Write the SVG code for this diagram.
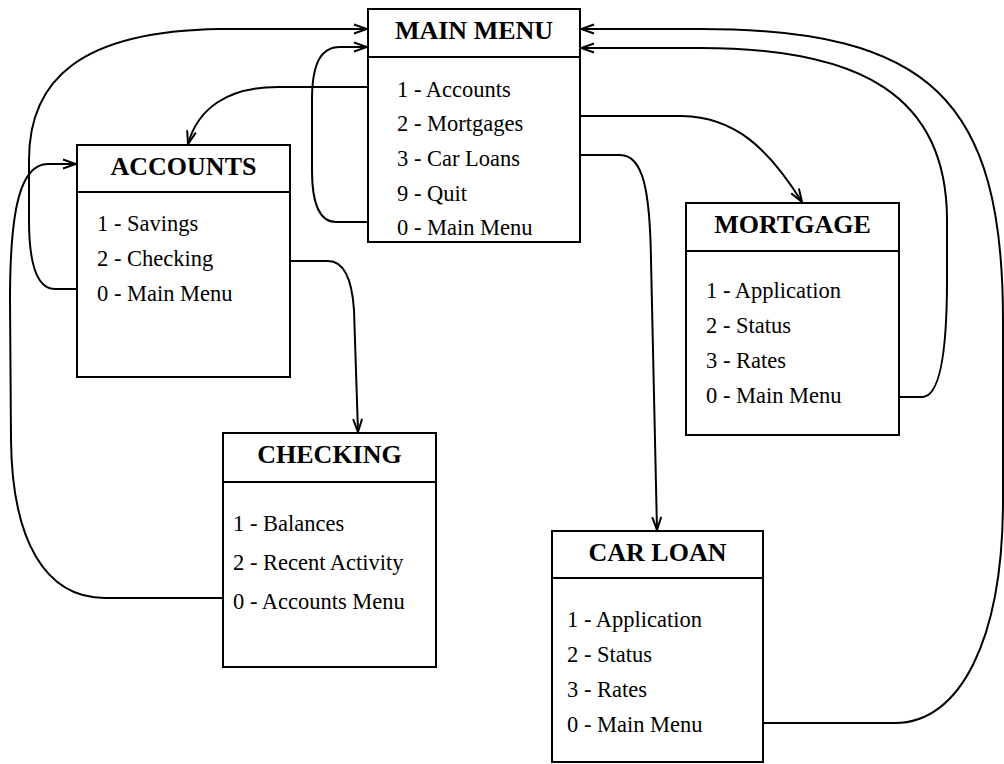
<svg xmlns="http://www.w3.org/2000/svg" width="1004" height="764" viewBox="0 0 1004 764">
  <defs>
    <style>
      .box { fill: #fff; stroke: #000; stroke-width: 2; }
      .sep { stroke: #000; stroke-width: 2; }
      .title { font-family: "Liberation Serif", "Times New Roman", serif; font-weight: bold; font-size: 26px; text-anchor: middle; fill: #000; }
      .item { font-family: "Liberation Serif", "Times New Roman", serif; font-size: 22.5px; fill: #000; }
      .wire { fill: none; stroke: #000; stroke-width: 2; }
      .arrow { marker-end: url(#head); }
    </style>
    <marker id="head" markerUnits="userSpaceOnUse" markerWidth="16" markerHeight="12" viewBox="-14 -6 16 12" refX="0" refY="0" orient="auto">
      <path d="M -13 -4.5 L 0 0 L -13 4.5" fill="none" stroke="#000" stroke-width="2"/>
    </marker>
  </defs>

  <rect width="1004" height="764" fill="#fff"/>

  <!-- connectors -->
  <g id="connectors">
    <!-- Main Menu: 1 - Accounts -> ACCOUNTS -->
    <path class="wire arrow" d="M 368 87 L 278 87 C 228 87 198 108 188 144"/>
    <!-- Main Menu: 2 - Mortgages -> MORTGAGE -->
    <path class="wire arrow" d="M 580 116 L 682 116 C 735 117 768 148 802 202"/>
    <!-- Main Menu: 3 - Car Loans -> CAR LOAN -->
    <path class="wire arrow" d="M 580 155 L 620 155 C 643 155 650 190 651 260 L 657 530"/>
    <!-- Main Menu: 0 - Main Menu -> itself -->
    <path class="wire arrow" d="M 368 222 L 336 222 C 318 222 312 200 312 170 L 312 100 C 312 65 320 47 340 47 L 367 47"/>
    <!-- Accounts: 0 - Main Menu -> MAIN MENU -->
    <path class="wire arrow" d="M 77 289 L 55 289 C 35 289 29 260 29 220 L 29 160 C 29 80 80 31 220 29 L 367 29"/>
    <!-- Accounts: 2 - Checking -> CHECKING -->
    <path class="wire arrow" d="M 290 261 L 328 261 C 345 261 352 280 354 310 L 358 432"/>
    <!-- Checking: 0 - Accounts Menu -> ACCOUNTS -->
    <path class="wire arrow" d="M 223 598 L 105 598 C 45 598 12 540 11 440 L 10 300 C 10 210 20 164 48 164 L 76 164"/>
    <!-- Mortgage: 0 - Main Menu -> MAIN MENU -->
    <path class="wire arrow" d="M 899 397 L 922 397 C 940 397 947 350 947 280 L 947 220 C 947 95 860 48 700 48 L 581 48"/>
    <!-- Car Loan: 0 - Main Menu -> MAIN MENU -->
    <path class="wire arrow" d="M 763 723 L 895 723 C 960 723 1003 640 1003 500 L 1003 320 C 1003 100 930 29 700 29 L 581 29"/>
  </g>

  <!-- MAIN MENU -->
  <g id="main-menu">
    <rect class="box" x="368" y="9" width="212" height="233"/>
    <line class="sep" x1="368" y1="57" x2="580" y2="57"/>
    <text class="title" x="474" y="39">MAIN MENU</text>
    <text class="item" x="397" y="97">1 - Accounts</text>
    <text class="item" x="397" y="131">2 - Mortgages</text>
    <text class="item" x="397" y="166">3 - Car Loans</text>
    <text class="item" x="397" y="201">9 - Quit</text>
    <text class="item" x="397" y="235">0 - Main Menu</text>
  </g>

  <!-- ACCOUNTS -->
  <g id="accounts">
    <rect class="box" x="77" y="145" width="213" height="232"/>
    <line class="sep" x1="77" y1="192" x2="290" y2="192"/>
    <text class="title" x="183.5" y="175">ACCOUNTS</text>
    <text class="item" x="97" y="231">1 - Savings</text>
    <text class="item" x="97" y="266">2 - Checking</text>
    <text class="item" x="97" y="301">0 - Main Menu</text>
  </g>

  <!-- CHECKING -->
  <g id="checking">
    <rect class="box" x="223" y="433" width="213" height="234"/>
    <line class="sep" x1="223" y1="482" x2="436" y2="482"/>
    <text class="title" x="329.5" y="463">CHECKING</text>
    <text class="item" x="233" y="531">1 - Balances</text>
    <text class="item" x="233" y="570">2 - Recent Activity</text>
    <text class="item" x="233" y="609">0 - Accounts Menu</text>
  </g>

  <!-- MORTGAGE -->
  <g id="mortgage">
    <rect class="box" x="686" y="203" width="213" height="232"/>
    <line class="sep" x1="686" y1="251" x2="899" y2="251"/>
    <text class="title" x="792.5" y="233">MORTGAGE</text>
    <text class="item" x="706" y="298">1 - Application</text>
    <text class="item" x="706" y="333">2 - Status</text>
    <text class="item" x="706" y="368">3 - Rates</text>
    <text class="item" x="706" y="403">0 - Main Menu</text>
  </g>

  <!-- CAR LOAN -->
  <g id="car-loan">
    <rect class="box" x="552" y="531" width="211" height="231"/>
    <line class="sep" x1="552" y1="578" x2="763" y2="578"/>
    <text class="title" x="657.5" y="561">CAR LOAN</text>
    <text class="item" x="567" y="627">1 - Application</text>
    <text class="item" x="567" y="662">2 - Status</text>
    <text class="item" x="567" y="697">3 - Rates</text>
    <text class="item" x="567" y="732">0 - Main Menu</text>
  </g>
</svg>
